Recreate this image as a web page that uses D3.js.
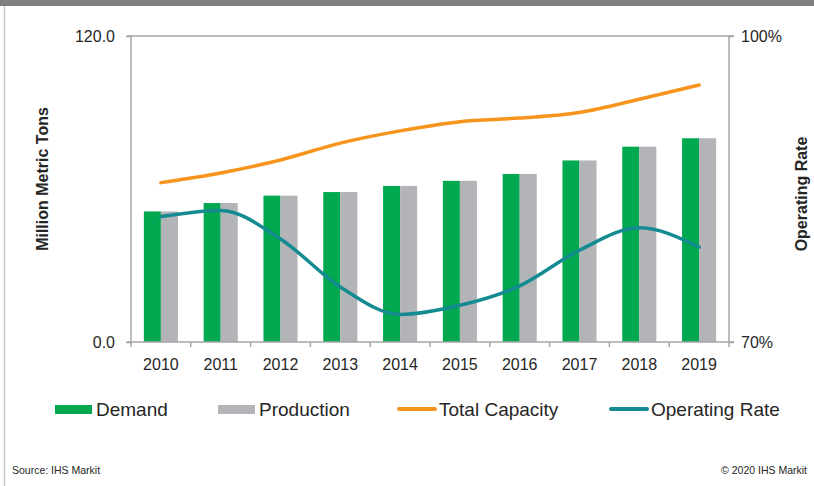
<!DOCTYPE html>
<html>
<head>
<meta charset="utf-8">
<script src="https://cdn.jsdelivr.net/npm/d3@7"></script>
<style>
  body { margin: 0; background: #fff; }
  text { font-family: "Liberation Sans", Arial, sans-serif; fill: #262626; }
  .narrow { font-family: "Liberation Sans Narrow", "Arial Narrow", "Liberation Sans", sans-serif; }
</style>
</head>
<body>
<div id="drawing"></div>
<script>
// chart values
const years = ["2010","2011","2012","2013","2014","2015","2016","2017","2018","2019"];
const demand =     [51.2, 54.5, 57.4, 58.8, 61.2, 63.2, 65.9, 71.2, 76.6, 79.9];
const production = [51.2, 54.5, 57.4, 58.8, 61.2, 63.2, 65.9, 71.2, 76.6, 79.9];
const capacity =   [62.5, 66.3, 71.4, 78.0, 82.8, 86.4, 87.8, 90.0, 95.2, 100.8];
const operatingRate = [82.3, 82.9, 80.1, 75.4, 72.7, 73.6, 75.5, 79.0, 81.2, 79.3];
const leftTicks = [0, 120];
const rightTicks = [70, 100];
const seriesNames = ["Demand", "Production", "Total Capacity", "Operating Rate"];

const width = 814;
const height = 486;
const plot = {left: 131, right: 729, top: 36, bottom: 342};
const colors = {Demand: "#00a94f", Production: "#b3b4b8", "Total Capacity": "#f7941d", "Operating Rate": "#138b91"};
const axisColor = "#a6a6a6";

const svg = d3.select("#drawing").append("svg")
  .attr("width", width)
  .attr("height", height);

// frame: grey band on top, thin line at left
svg.append("rect").attr("x", 0).attr("y", 0).attr("width", width).attr("height", 6).attr("fill", "#7f7f7f");
svg.append("line").attr("x1", 4.5).attr("x2", 4.5).attr("y1", 6).attr("y2", height)
  .attr("stroke", "#c8c8c8").attr("stroke-width", 1.5);

const xScale = d3.scaleBand()
  .domain(years)
  .range([plot.left, plot.right])
  .paddingInner(0.43)
  .paddingOuter(0.215);

const xSub = d3.scaleBand()
  .domain(["Demand", "Production"])
  .range([0, xScale.bandwidth()]);

const yScale = d3.scaleLinear().domain([0, 120]).range([plot.bottom, plot.top]);
const yRight = d3.scaleLinear().domain([70, 100]).range([plot.bottom, plot.top]);

const chart = svg.append("g");

// top gridline
chart.append("line")
  .attr("x1", plot.left - 4).attr("x2", plot.right + 5)
  .attr("y1", yScale(120)).attr("y2", yScale(120))
  .attr("stroke", axisColor).attr("stroke-width", 1.5);

// bars
const barData = years.map((y, i) => ({year: y, vals: [
  {key: "Demand", v: demand[i]}, {key: "Production", v: production[i]}]}));

chart.selectAll(".yearGroup")
  .data(barData)
  .join("g")
  .attr("class", "yearGroup")
  .attr("transform", d => `translate(${xScale(d.year)},0)`)
  .selectAll("rect")
  .data(d => d.vals)
  .join("rect")
  .attr("x", d => xSub(d.key))
  .attr("width", xSub.bandwidth())
  .attr("y", d => yScale(d.v))
  .attr("height", d => yScale(0) - yScale(d.v))
  .attr("fill", d => colors[d.key]);

const cx = y => xScale(y) + xScale.bandwidth() / 2;

const capLine = d3.line()
  .x((d, i) => cx(years[i]))
  .y(d => yScale(d))
  .curve(d3.curveMonotoneX);

const rateLine = d3.line()
  .x((d, i) => cx(years[i]))
  .y(d => yRight(d))
  .curve(d3.curveMonotoneX);

chart.append("path")
  .attr("d", capLine(capacity))
  .attr("fill", "none")
  .attr("stroke", colors["Total Capacity"])
  .attr("stroke-width", 3.5)
  .attr("stroke-linecap", "round");

chart.append("path")
  .attr("d", rateLine(operatingRate))
  .attr("fill", "none")
  .attr("stroke", colors["Operating Rate"])
  .attr("stroke-width", 3.5)
  .attr("stroke-linecap", "round");

// axes
const leftAxis = chart.append("g")
  .attr("transform", `translate(${plot.left},0)`)
  .call(d3.axisLeft(yScale).tickValues(leftTicks).tickFormat(d3.format(".1f")).tickSize(5).tickPadding(11));

const rightAxis = chart.append("g")
  .attr("transform", `translate(${plot.right},0)`)
  .call(d3.axisRight(yRight).tickValues(rightTicks).tickFormat(d => d + "%").tickSize(5).tickPadding(7));

const bottomAxis = chart.append("g")
  .attr("transform", `translate(0,${plot.bottom})`)
  .call(d3.axisBottom(xScale).tickSize(0).tickPadding(17));

// category boundary ticks
chart.append("g")
  .selectAll("line")
  .data(d3.range(years.length + 1))
  .join("line")
  .attr("x1", i => plot.left + i * xScale.step())
  .attr("x2", i => plot.left + i * xScale.step())
  .attr("y1", plot.bottom)
  .attr("y2", plot.bottom + 5)
  .attr("stroke", axisColor)
  .attr("stroke-width", 1.5);

[leftAxis, rightAxis, bottomAxis].forEach(ax => {
  ax.select(".domain").attr("stroke", axisColor).attr("stroke-width", 1.5);
  ax.selectAll(".tick line").attr("stroke", axisColor).attr("stroke-width", 1.5);
  ax.selectAll("text").attr("font-size", 16).attr("fill", "#262626")
    .attr("font-family", "Liberation Sans, Arial, sans-serif");
});
// left/right domain lines without outer ticks
leftAxis.select(".domain").attr("d", `M0,${plot.top}V${plot.bottom}`);
rightAxis.select(".domain").attr("d", `M0,${plot.top}V${plot.bottom}`);
bottomAxis.select(".domain").attr("d", `M-4,0H${plot.right - plot.left + 5}`).attr("transform", `translate(${plot.left},0)`);

// axis titles
svg.append("text")
  .attr("transform", `translate(48,179) rotate(-90)`)
  .attr("text-anchor", "middle")
  .attr("font-size", 16)
  .attr("font-weight", "bold")
  .text("Million Metric Tons");

svg.append("text")
  .attr("transform", `translate(807,194) rotate(-90)`)
  .attr("text-anchor", "middle")
  .attr("font-size", 16)
  .attr("font-weight", "bold")
  .text("Operating Rate");

// legend
const legendX = [55, 218, 398, 610];
const legend = svg.append("g").attr("class", "legend");
seriesNames.forEach((name, i) => {
  const g = legend.append("g").attr("transform", `translate(${legendX[i]},409)`);
  if (i < 2) {
    g.append("rect").attr("x", 0).attr("y", -4).attr("width", 37).attr("height", 9).attr("fill", colors[name]);
  } else {
    g.append("line").attr("x1", 1).attr("x2", 37).attr("y1", 0).attr("y2", 0)
      .attr("stroke", colors[name]).attr("stroke-width", 4).attr("stroke-linecap", "round");
  }
  g.append("text")
    .attr("class", "narrow")
    .attr("x", 41)
    .attr("y", 6.5)
    .attr("font-size", 19)
    .text(name);
});

// footer
svg.append("text").attr("class", "narrow")
  .attr("x", 12).attr("y", 474).attr("font-size", 10.5).attr("fill", "#404040")
  .text("Source: IHS Markit");
svg.append("text").attr("class", "narrow")
  .attr("x", 807).attr("y", 474).attr("font-size", 10.5).attr("fill", "#404040")
  .attr("text-anchor", "end")
  .text("© 2020  IHS Markit");
</script>
</body>
</html>
